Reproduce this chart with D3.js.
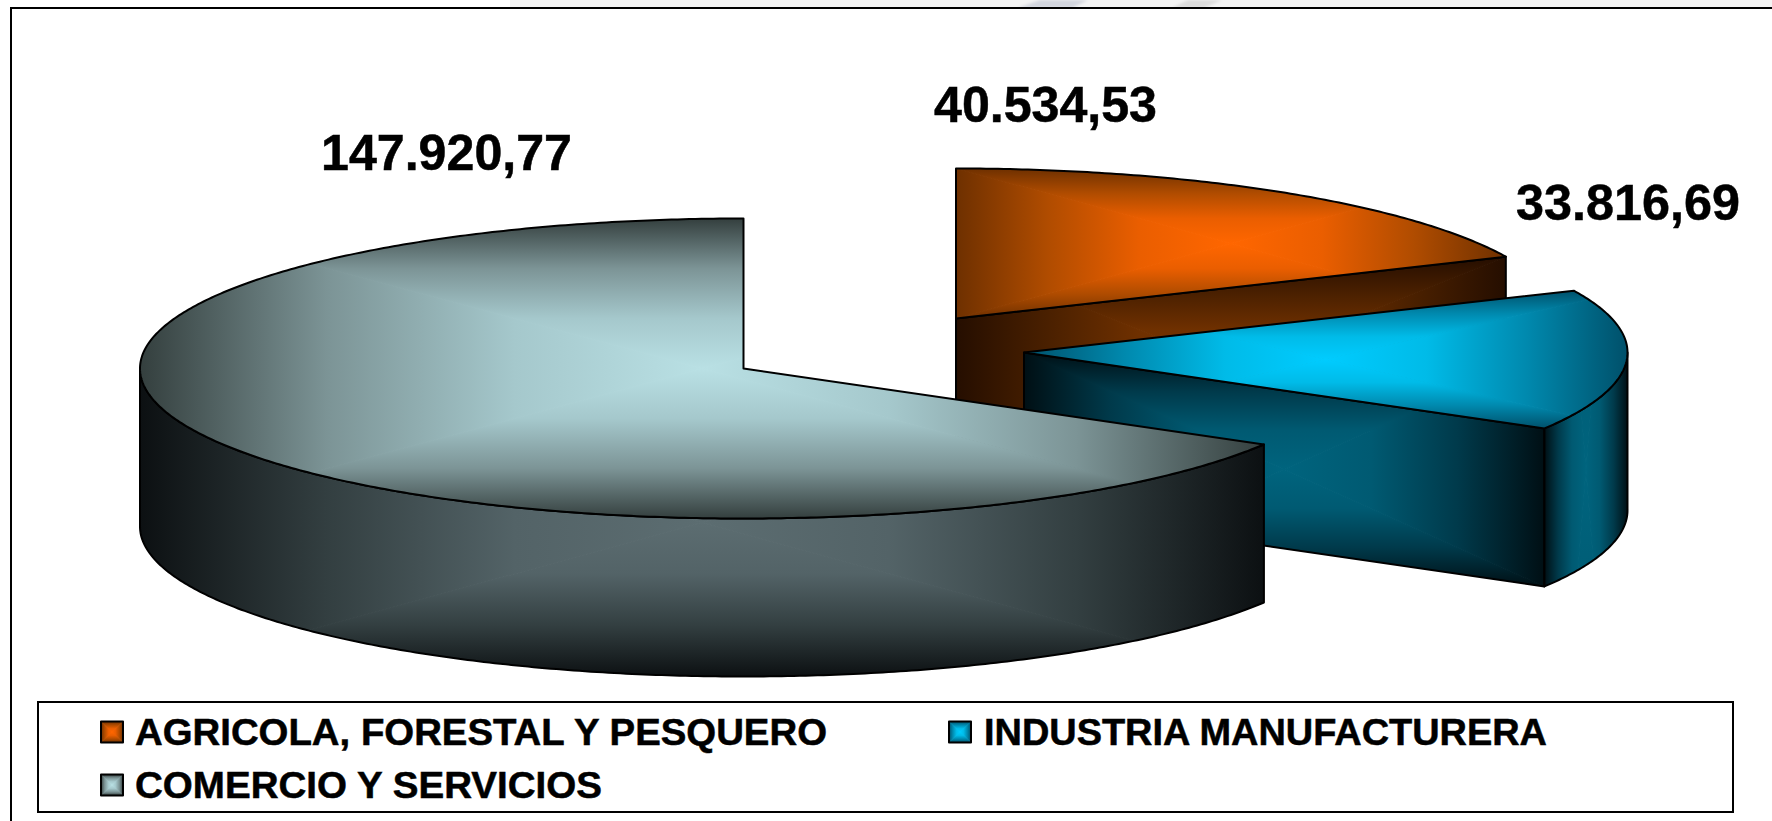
<!DOCTYPE html>
<html><head><meta charset="utf-8">
<script src="https://cdn.jsdelivr.net/npm/d3@7/dist/d3.min.js"></script>
<style>html,body{margin:0;padding:0;background:#fff;overflow:hidden}svg{display:block}text{font-family:"Liberation Sans",Arial,sans-serif;font-weight:bold;fill:#000;stroke:#000;stroke-width:.5px}</style>
</head><body><svg id="c" width="1772" height="821"></svg>
<script>
const categories = ["AGRICOLA, FORESTAL Y PESQUERO","INDUSTRIA MANUFACTURERA","COMERCIO Y SERVICIOS"];
const values = [40534.53, 33816.69, 147920.77];
const valueLabels = ["40.534,53","33.816,69","147.920,77"];
const labelPos = [[934,122],[1516,220],[321,170]];
const labelWidth = [223,224,251];
const explode = [[212.5,-50],[280.5,-16],[0,0]];
const topStops = [["#6e3000","#b04c00","#ea5e00","#ff6600"],["#00506a","#0089ae","#00bbe8","#00ccff"],["#343f3e","#7c9496","#a5c8cc","#b9e0e4"]];
const wallStops = [["#250e00","#4a2000","#6f3000","#7c3600"],["#000f14","#003a4b","#005a72","#00647e"],["#0c1012","#333f41","#536367","#5c6d71"]];

const W=1772,H=821, CX=743.5, CY=368.5, RX=603.5, RY=150, DEPTH=158;
const svg=d3.select("#c"), defs=svg.append("defs");
const unitX=d3.scaleLinear().domain([-1,1]).range([-RX,RX]);
const unitY=d3.scaleLinear().domain([-1,1]).range([-RY,RY]);
const pie=d3.pie().sort(null).value(d=>d);
const arcs=pie(values);
let uid=0;
const rim=(c,a,dy=0)=>[c[0]+unitX(Math.sin(a)), c[1]-unitY(Math.cos(a))+dy];
const line=d3.line();

function pathGradient(g,pts,box,stops){
  const id="clip"+(uid++);
  defs.append("clipPath").attr("id",id).append("path").attr("d",line(pts)+"Z");
  const [x0,y0,x1,y1]=box, mx=(x0+x1)/2, my=(y0+y1)/2;
  const layer=g.append("g").attr("clip-path",`url(#${id})`);
  const tris=[
    {p:[[x0,y0],[x1,y0],[mx,my]],from:[mx,y0]},
    {p:[[x1,y0],[x1,y1],[mx,my]],from:[x1,my]},
    {p:[[x1,y1],[x0,y1],[mx,my]],from:[mx,y1]},
    {p:[[x0,y1],[x0,y0],[mx,my]],from:[x0,my]}];
  tris.forEach(t=>{
    const gid="grad"+(uid++);
    const lg=defs.append("linearGradient").attr("id",gid).attr("gradientUnits","userSpaceOnUse")
      .attr("x1",t.from[0]).attr("y1",t.from[1]).attr("x2",mx).attr("y2",my);
    stops.forEach((s,i)=>lg.append("stop").attr("offset",i/(stops.length-1)).attr("stop-color",s));
    layer.append("path").attr("d",line(t.p)+"Z").attr("fill",`url(#${gid})`)
      .attr("stroke",`url(#${gid})`).attr("stroke-width",1);
  });
  g.append("path").attr("d",line(pts)+"Z").attr("fill","none").attr("stroke","#000").attr("stroke-width",2).attr("stroke-linejoin","round");
}
const bbox=pts=>[d3.min(pts,p=>p[0]),d3.min(pts,p=>p[1]),d3.max(pts,p=>p[0]),d3.max(pts,p=>p[1])];
const sample=(a,b)=>{const n=Math.max(2,Math.ceil((b-a)/0.01));return d3.range(n+1).map(i=>a+(b-a)*i/n);};

// page strip above the frame
svg.append("rect").attr("x",510).attr("y",0).attr("width",W-510).attr("height",7).attr("fill","#f4f4f4");
defs.append("filter").attr("id","soft").append("feGaussianBlur").attr("stdDeviation",1.5);
const strip=svg.append("g").attr("filter","url(#soft)");
strip.append("path").attr("d","M1018,8L1040,0L1088,0L1072,8Z").attr("fill","#d2d5de");
strip.append("path").attr("d","M1172,8L1188,0L1222,0L1204,8Z").attr("fill","#dcdcdc");
svg.append("rect").attr("x",0).attr("y",8).attr("width",W).attr("height",H).attr("fill","#fff");

// chart frame
svg.append("path").attr("d",`M11,${H}V8H${W}`).attr("fill","none").attr("stroke","#000").attr("stroke-width",2);

const g=svg.append("g");
const centers=explode.map(e=>[CX+e[0],CY+e[1]]);
const right=Math.PI/2, left=3*Math.PI/2;

function radialWall(i,a){
  const c=centers[i], p=rim(c,a);
  const pts=[c,p,[p[0],p[1]+DEPTH],[c[0],c[1]+DEPTH]];
  pathGradient(g,pts,bbox(pts),wallStops[i]);
}
function rimWall(i,a0,a1,stretch=0){
  const c=centers[i], s=sample(a0,a1);
  const pts=[...s.map(a=>rim(c,a)),...s.slice().reverse().map(a=>rim(c,a,DEPTH))];
  const b=bbox(pts);
  pathGradient(g,pts,[b[0],b[1]-stretch,b[2],b[3]+stretch],wallStops[i]);
}
function topFace(i){
  const c=centers[i], d=arcs[i];
  const pts=[c,...sample(d.startAngle,d.endAngle).map(a=>rim(c,a))];
  pathGradient(g,pts,bbox(pts),topStops[i]);
}
radialWall(0,arcs[0].endAngle); topFace(0);
radialWall(1,arcs[1].endAngle);
rimWall(1,right,arcs[1].endAngle,400);
topFace(1);
rimWall(2,arcs[2].startAngle,left);
topFace(2);

// value labels
valueLabels.forEach((t,i)=>{
  svg.append("text").attr("x",labelPos[i][0]).attr("y",labelPos[i][1]).attr("font-size",50)
    .attr("textLength",labelWidth[i]).attr("lengthAdjust","spacingAndGlyphs").text(t);
});

// legend
svg.append("rect").attr("x",38).attr("y",702).attr("width",1695).attr("height",110).attr("fill","#fff").attr("stroke","#000").attr("stroke-width",2);
const legendPos=[[101,732],[949,732],[101,785]];
const textX=[135,984,135], textW=[692,563,467];
categories.forEach((t,i)=>{
  const [x,y]=legendPos[i];
  const pts=[[x,y-10.5],[x+22,y-10.5],[x+22,y+10.5],[x,y+10.5]];
  pathGradient(svg.append("g"),pts,bbox(pts),topStops[i]);
  svg.append("text").attr("x",textX[i]).attr("y",y+13).attr("font-size",36)
    .attr("textLength",textW[i]).attr("lengthAdjust","spacingAndGlyphs").text(t);
});
</script></body></html>
